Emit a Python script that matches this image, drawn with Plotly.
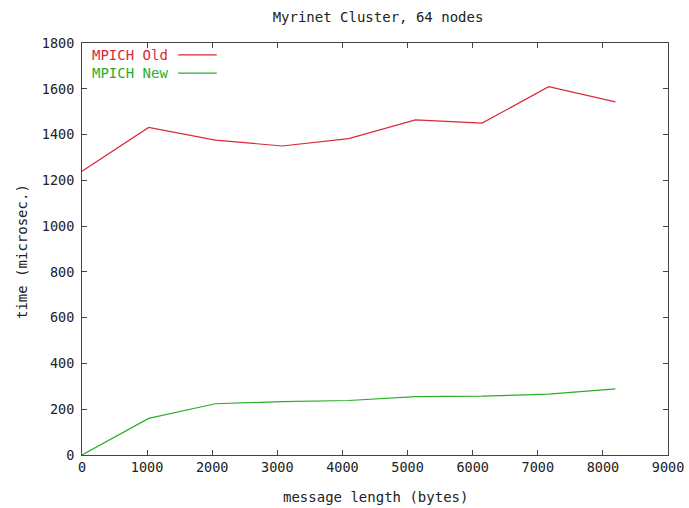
import plotly.graph_objects as go

msg_len = [0, 1024, 2048, 3072, 4096, 5120, 6144, 7168, 8192]
mpich_old = [1240, 1431, 1376, 1350, 1382, 1464, 1450, 1609, 1543]
mpich_new = [0, 160, 224, 233, 238, 255, 257, 266, 289]
x_ticks = [0, 1000, 2000, 3000, 4000, 5000, 6000, 7000, 8000, 9000]
y_ticks = [0, 200, 400, 600, 800, 1000, 1200, 1400, 1600, 1800]

RED = "#d82a36"
GREEN = "#2aae2a"
FONT = "DejaVu Sans Mono"
TXT = "#222222"

fig = go.Figure()
fig.add_trace(go.Scatter(x=msg_len, y=mpich_old, mode="lines", name="MPICH Old",
                         line=dict(color=RED, width=1.2)))
fig.add_trace(go.Scatter(x=msg_len, y=mpich_new, mode="lines", name="MPICH New",
                         line=dict(color=GREEN, width=1.2)))

axis_common = dict(showgrid=False, zeroline=False, showline=True, linecolor="#444444",
                   linewidth=1, mirror="allticks", ticks="inside", ticklen=5, automargin=False,
                   tickcolor="#444444", tickfont=dict(family=FONT, size=13.5, color=TXT))

fig.update_xaxes(range=[0, 9000], tickvals=x_ticks, ticktext=[str(v) for v in x_ticks],
                 **axis_common)
fig.update_yaxes(range=[0, 1800], tickvals=y_ticks, ticktext=[str(v) for v in y_ticks],
                 ticklabelstandoff=4, **axis_common)

# axis titles
fig.add_annotation(x=0.5, y=-0.102, xref="paper", yref="paper", text="message length (bytes)",
                   showarrow=False, xanchor="center", yanchor="middle",
                   font=dict(family=FONT, size=14, color=TXT))
fig.add_annotation(x=-0.1024, y=0.495, xref="paper", yref="paper", text="time (microsec.)",
                   showarrow=False, xanchor="center", yanchor="middle", textangle=-90,
                   font=dict(family=FONT, size=14, color=TXT))

# legend drawn gnuplot-style: text then line sample
for name, color, yp in [("MPICH Old", RED, 0.971), ("MPICH New", GREEN, 0.927)]:
    fig.add_annotation(x=0.0137, y=yp, xref="paper", yref="paper", text=name, showarrow=False,
                       xanchor="left", yanchor="middle",
                       font=dict(family=FONT, size=14, color=color))
    fig.add_shape(type="line", xref="paper", yref="paper", x0=0.164, x1=0.230, y0=yp, y1=yp,
                  line=dict(color=color, width=1.2))

fig.update_layout(
    width=689, height=508,
    margin=dict(l=82, r=21, t=43, b=53, autoexpand=False),
    paper_bgcolor="white", plot_bgcolor="white",
    showlegend=False,
    title=dict(text="Myrinet Cluster, 64 nodes", x=0.5486, xanchor="center", y=0.9665, yanchor="middle",
               font=dict(family=FONT, size=14, color=TXT)),
)

fig.write_html("out.html")
